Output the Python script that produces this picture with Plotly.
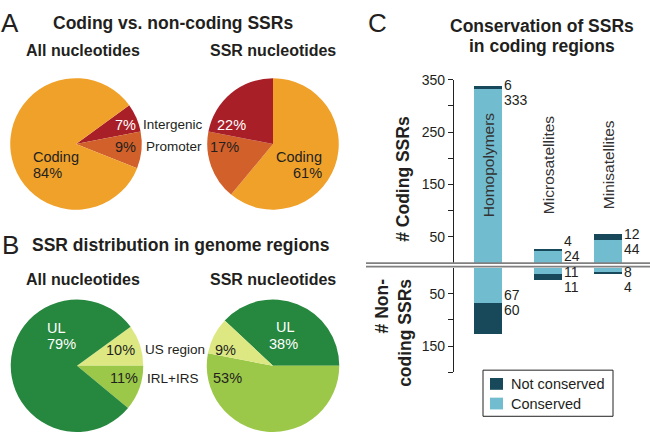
import plotly.graph_objects as go

W, H = 650, 432

# ---------------- data ----------------
# Panel A: coding vs non-coding
a_left_labels = ["Intergenic", "Promoter", "Coding"]
a_left_values = [7, 9, 84]
a_right_labels = ["Coding", "Promoter", "Intergenic"]
a_right_values = [61, 17, 22]

# Panel B: genome regions
b_left_labels = ["US region", "IRL+IRS", "UL"]
b_left_values = [10, 11, 79]
b_right_labels = ["UL", "IRL+IRS", "US region"]
b_right_values = [38, 53, 9]

# Panel C: conservation
categories = ["Homopolymers", "Microsatellites", "Minisatellites"]
coding_conserved = [333, 24, 44]
coding_not_conserved = [6, 4, 12]
noncoding_conserved = [67, 11, 8]
noncoding_not_conserved = [60, 11, 4]
coding_ticks = [50, 100, 150, 200, 250, 300, 350]
coding_ticktext = ["50", "", "150", "", "250", "", "350"]
noncoding_ticks = [50, 100, 150, 200]
noncoding_ticktext = ["50", "", "150", ""]
legend_names = ["Not conserved", "Conserved"]

# ---------------- styles ----------------
FONT = "Liberation Sans, Arial, sans-serif"
NARROW = "Liberation Sans Narrow, Arial Narrow, Liberation Sans, Arial, sans-serif"
TXT = "#231f20"
col_A = {"Coding": "#F0A12A", "Intergenic": "#A81F27", "Promoter": "#D2602A"}
col_B = {"UL": "#26873E", "US region": "#DDE883", "IRL+IRS": "#9CC849"}
white_text = {"Intergenic", "UL"}
C_CONS = "#72BCCF"
C_NOT = "#17495A"


def px_x(p):
    return p / W


def px_y(p):
    return 1 - p / H


def pie_domain(cx, cy, r):
    return dict(x=[px_x(cx - r), px_x(cx + r)],
                y=[max(0, px_y(cy + r)), min(1, px_y(cy - r))])


def make_pie(labels, values, colors, rotation, dom):
    return go.Pie(
        labels=labels, values=values, sort=False, direction="clockwise",
        rotation=rotation, domain=dom, textinfo="none",
        marker=dict(colors=[colors[l] for l in labels], line=dict(width=0)),
        showlegend=False, hoverinfo="label+percent",
    )


fig = go.Figure()

fig.add_trace(make_pie(a_left_labels, a_left_values, col_A, 54, pie_domain(76, 138.5, 67)))
fig.add_trace(make_pie(a_right_labels, a_right_values, col_A, 0, pie_domain(273, 138.5, 67)))
fig.add_trace(make_pie(b_left_labels, b_left_values, col_B, 54, pie_domain(77, 364.5, 67.5)))
fig.add_trace(make_pie(b_right_labels, b_right_values, col_B, -46.8, pie_domain(273, 364.5, 67.5)))

xs = list(range(len(categories)))
BW = 0.467

fig.add_trace(go.Bar(x=xs, y=coding_conserved, width=BW, marker=dict(color=C_CONS, line=dict(width=0)),
                     name="Conserved", showlegend=False, xaxis="x", yaxis="y"))
fig.add_trace(go.Bar(x=xs, y=coding_not_conserved, width=BW, marker=dict(color=C_NOT, line=dict(width=0)),
                     name="Not conserved", showlegend=False, xaxis="x", yaxis="y"))
fig.add_trace(go.Bar(x=xs, y=noncoding_conserved, width=BW, marker=dict(color=C_CONS, line=dict(width=0)),
                     name="Conserved", showlegend=False, xaxis="x", yaxis="y2"))
fig.add_trace(go.Bar(x=xs, y=noncoding_not_conserved, width=BW, marker=dict(color=C_NOT, line=dict(width=0)),
                     name="Not conserved", showlegend=False, xaxis="x", yaxis="y2"))

ann = []


def add_text(x, y, text, size, bold=False, family=FONT, color=TXT, **kw):
    if bold:
        text = f"<b>{text}</b>"
    d = dict(x=px_x(x), y=px_y(y), xref="paper", yref="paper", text=text, showarrow=False,
             xanchor="center", yanchor="middle",
             font=dict(family=family, size=size, color=color))
    d.update(kw)
    ann.append(d)


# panel letters and titles
add_text(10, 15, "A", 26)
add_text(10, 241, "B", 26)
add_text(377, 15, "C", 26)
add_text(173, 15, "Coding vs. non-coding SSRs", 17.5, bold=True)
add_text(181, 241, "SSR distribution in genome regions", 17.5, bold=True)
add_text(542, 18, "Conservation of SSRs", 17.5, bold=True)
add_text(542, 38.5, "in coding regions", 17.5, bold=True)
for yy in (43, 277):
    add_text(83, yy, "All nucleotides", 16, bold=True)
    add_text(273, yy, "SSR nucleotides", 16, bold=True)

# slice names between pies
add_text(173, 119, a_left_labels[0], 13.5, family=NARROW)
add_text(174, 141.5, a_left_labels[1], 13.5, family=NARROW)
add_text(175, 348, b_left_labels[0], 13.5, family=NARROW)
add_text(173, 377, b_left_labels[1], 13.5, family=NARROW)


def pct(labels, values, name):
    v = values[labels.index(name)]
    return f"{v}%"


def tcol(name):
    return "white" if name in white_text else TXT


# percentage labels inside pies (text derived from data)
PS = 14.5
add_text(31, 152, "Coding", PS, color=tcol("Coding"), xanchor="left")
add_text(31, 168, pct(a_left_labels, a_left_values, "Coding"), PS, color=tcol("Coding"), xanchor="left")
add_text(126, 119, pct(a_left_labels, a_left_values, "Intergenic"), PS, color=tcol("Intergenic"))
add_text(125, 141.5, pct(a_left_labels, a_left_values, "Promoter"), PS, color=tcol("Promoter"))
add_text(232, 119, pct(a_right_labels, a_right_values, "Intergenic"), PS, color=tcol("Intergenic"))
add_text(224, 141.5, pct(a_right_labels, a_right_values, "Promoter"), PS, color=tcol("Promoter"))
add_text(324, 152, "Coding", PS, color=tcol("Coding"), xanchor="right")
add_text(324, 168, pct(a_right_labels, a_right_values, "Coding"), PS, color=tcol("Coding"), xanchor="right")

add_text(45, 326, "UL", PS, color=tcol("UL"), xanchor="left")
add_text(45, 342, pct(b_left_labels, b_left_values, "UL"), PS, color=tcol("UL"), xanchor="left")
add_text(120, 348, pct(b_left_labels, b_left_values, "US region"), PS, color=tcol("US region"))
add_text(124, 377, pct(b_left_labels, b_left_values, "IRL+IRS"), PS, color=tcol("IRL+IRS"))
add_text(285, 325, "UL", PS, color=tcol("UL"))
add_text(283, 342, pct(b_right_labels, b_right_values, "UL"), PS, color=tcol("UL"))
add_text(225.5, 348, pct(b_right_labels, b_right_values, "US region"), PS, color=tcol("US region"))
add_text(227, 377, pct(b_right_labels, b_right_values, "IRL+IRS"), PS, color=tcol("IRL+IRS"))

# axis titles
add_text(403, 174, "# Coding SSRs", 17.5, bold=True, textangle=-90)
add_text(394, 331, "# Non-<br>coding SSRs", 17.5, bold=True, textangle=-90, align="right")

# category labels (rotated)
for i, c in enumerate(categories):
    ann.append(dict(x=i, y=187, xref="x", yref="y", text=c, showarrow=False, textangle=-90,
                    xanchor="center", yanchor="middle",
                    font=dict(family=FONT, size=15.5, color="#333")))

# value labels beside the bars
LS = 7.5


def val_label(i, y, yref, text, shift):
    ann.append(dict(x=i + BW / 2, y=y, xref="x", yref=yref, text=text, showarrow=False,
                    xanchor="left", yanchor="middle", xshift=1, yshift=shift, borderpad=0,
                    font=dict(family=FONT, size=14, color=TXT)))


for i in xs:
    tot = coding_conserved[i] + coding_not_conserved[i]
    split = max(tot - 14, 28)
    val_label(i, split, "y", str(coding_not_conserved[i]), LS)
    val_label(i, split, "y", str(coding_conserved[i]), -LS)
    s2 = max(noncoding_conserved[i], 23)
    val_label(i, s2, "y2", str(noncoding_conserved[i]), LS)
    val_label(i, s2, "y2", str(noncoding_not_conserved[i]), -LS)

shapes = []
for yy in (260, 263.5):
    shapes.append(dict(type="line", xref="paper", yref="paper", x0=px_x(366), x1=1,
                       y0=px_y(yy), y1=px_y(yy), line=dict(color="#808080", width=1.8)))

# legend box (drawn manually to match the compact boxed key)
shapes.append(dict(type="rect", xref="paper", yref="paper", x0=px_x(483), x1=px_x(613),
                   y0=px_y(416), y1=px_y(369), line=dict(color="#222", width=1), fillcolor="white"))
for k, (nm, colr) in enumerate(zip(legend_names, [C_NOT, C_CONS])):
    yc = 383 + 20 * k
    shapes.append(dict(type="rect", xref="paper", yref="paper", x0=px_x(490), x1=px_x(503),
                       y0=px_y(yc + 6), y1=px_y(yc - 6), line=dict(width=0), fillcolor=colr))
    add_text(509, yc, nm, 14.5, xanchor="left")

axis_common = dict(showline=True, linecolor="#222", linewidth=1.2, ticks="outside", ticklen=5,
                   tickcolor="#222", showgrid=False, zeroline=False, anchor="x",
                   tickfont=dict(family=FONT, size=14, color=TXT))

fig.update_layout(
    width=W, height=H, margin=dict(l=0, r=0, t=0, b=0),
    paper_bgcolor="white", plot_bgcolor="rgba(0,0,0,0)",
    barmode="stack", bargap=0, showlegend=False,
    font=dict(family=FONT, color=TXT),
    xaxis=dict(domain=[px_x(454), 1], range=[-0.567, 2.7], visible=False, fixedrange=True),
    yaxis=dict(domain=[px_y(260), px_y(73)], range=[0, 350], tickvals=coding_ticks,
               ticktext=coding_ticktext, **axis_common),
    yaxis2=dict(domain=[px_y(371), px_y(264.5)], range=[200, 0], tickvals=noncoding_ticks,
                ticktext=noncoding_ticktext, **axis_common),
    annotations=ann, shapes=shapes,
)

fig.write_html("out.html", config={"displayModeBar": False},
               post_script="document.body.style.margin='0';")
